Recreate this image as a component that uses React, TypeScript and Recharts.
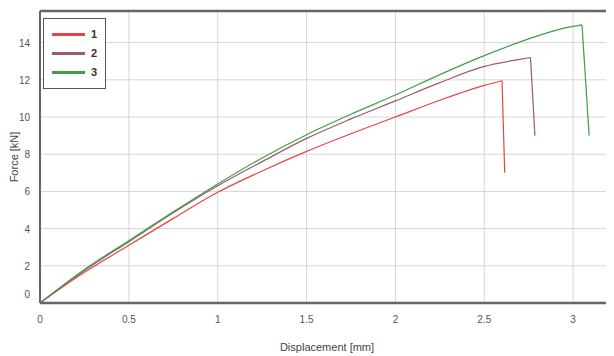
import {
  LineChart,
  Line,
  XAxis,
  YAxis,
  CartesianGrid,
  ReferenceLine,
} from "recharts";

const seriesNames = ["1", "2", "3"];
const seriesColors = ["#e64545", "#9a5c6c", "#3f9f45"];

// rising part up to the peak, then the final drop point
const disp1 = [0, 0.125, 0.25, 0.5, 0.75, 1, 1.25, 1.5, 1.75, 2, 2.25, 2.5, 2.6];
const force1 = [0, 0.85, 1.65, 3.1, 4.55, 5.95, 7.1, 8.15, 9.1, 10.0, 10.9, 11.7, 11.95];
const drop1 = { x: 2.615, y: 7.0 };

const disp2 = [0, 0.125, 0.25, 0.5, 0.75, 1, 1.25, 1.5, 1.75, 2, 2.25, 2.5, 2.7, 2.76];
const force2 = [0, 0.9, 1.75, 3.3, 4.85, 6.3, 7.6, 8.85, 9.9, 10.87, 11.85, 12.72, 13.1, 13.2];
const drop2 = { x: 2.785, y: 9.0 };

const disp3 = [0, 0.125, 0.25, 0.5, 0.75, 1, 1.25, 1.5, 1.75, 2, 2.25, 2.5, 2.75, 2.95, 3.05];
const force3 = [0, 0.92, 1.8, 3.35, 4.9, 6.4, 7.8, 9.05, 10.15, 11.18, 12.28, 13.3, 14.2, 14.78, 14.95];
const drop3 = { x: 3.09, y: 9.0 };

const xTicks = [0, 0.5, 1, 1.5, 2, 2.5, 3];
const yTicks = [0, 2, 4, 6, 8, 10, 12, 14];

const X_MAX = 3.23;
const Y_MAX = 15.7;

const toPoints = (xs: number[], ys: number[]) =>
  xs.map((x, i) => ({ x, y: ys[i] }));

const rises = [
  toPoints(disp1, force1),
  toPoints(disp2, force2),
  toPoints(disp3, force3),
];
const drops = [drop1, drop2, drop3].map((d, i) => [
  rises[i][rises[i].length - 1],
  d,
]);

const font = "'Liberation Sans Narrow', 'Arial Narrow', 'Liberation Sans', sans-serif";

const YTick = ({ x, y, payload }: any) => (
  <text
    x={x - 2}
    y={payload.value === 0 ? y - 9 : y}
    dy={4}
    textAnchor="end"
    fill="#555"
    fontSize={10}
    fontFamily={font}
  >
    {payload.value}
  </text>
);

const XTick = ({ x, y, payload }: any) => (
  <text
    x={x}
    y={y + 12}
    textAnchor="middle"
    fill="#555"
    fontSize={10}
    fontFamily={font}
  >
    {payload.value}
  </text>
);

const LegendBox = () => (
  <div
    style={{
      position: "absolute",
      left: 43,
      top: 18,
      width: 61,
      height: 69,
      border: "1px solid #555",
      background: "#fff",
    }}
  >
    {seriesNames.map((name, i) => (
      <div
        key={name}
        style={{
          position: "absolute",
          left: 8,
          top: 10 + i * 19,
          display: "flex",
          alignItems: "center",
          height: 10,
        }}
      >
        <div style={{ width: 33, height: 3, background: seriesColors[i] }} />
        <span
          style={{
            marginLeft: 6,
            fontSize: 11,
            fontWeight: "bold",
            color: "#333",
            fontFamily: font,
            lineHeight: "10px",
          }}
        >
          {name}
        </span>
      </div>
    ))}
  </div>
);

export default function App() {
  return (
    <div
      style={{
        width: 614,
        height: 356,
        margin: "-8px 0 0 -8px",
        background: "#fff",
        position: "relative",
      }}
    >
      <LineChart
        width={614}
        height={356}
        margin={{ top: 11, right: 0, bottom: 23, left: 0 }}
      >
        <CartesianGrid stroke="#d6d6d6" strokeWidth={1} />
        <XAxis
          type="number"
          dataKey="x"
          domain={[0, X_MAX]}
          ticks={xTicks}
          allowDataOverflow
          height={30}
          tick={<XTick />}
          tickLine={false}
          axisLine={{ stroke: "#666", strokeWidth: 2.5 }}
        />
        <YAxis
          type="number"
          dataKey="y"
          domain={[0, Y_MAX]}
          ticks={yTicks}
          allowDataOverflow
          width={40}
          tick={<YTick />}
          tickLine={false}
          axisLine={{ stroke: "#666", strokeWidth: 2 }}
        />
        <ReferenceLine y={Y_MAX} stroke="#666" strokeWidth={2.5} />
        {rises.map((pts, i) => (
          <Line
            key={"rise" + seriesNames[i]}
            data={pts}
            dataKey="y"
            name={seriesNames[i]}
            type="monotoneX"
            stroke={seriesColors[i]}
            strokeWidth={1.2}
            dot={false}
            activeDot={false}
            isAnimationActive={false}
          />
        ))}
        {drops.map((pts, i) => (
          <Line
            key={"drop" + seriesNames[i]}
            data={pts}
            dataKey="y"
            name={seriesNames[i]}
            type="linear"
            stroke={seriesColors[i]}
            strokeWidth={1.2}
            dot={false}
            activeDot={false}
            isAnimationActive={false}
          />
        ))}
      </LineChart>
      <LegendBox />
      <div
        style={{
          position: "absolute",
          left: 14,
          top: 157,
          transform: "translate(-50%, -50%) rotate(-90deg)",
          fontSize: 11,
          color: "#444",
          fontFamily: font,
          whiteSpace: "nowrap",
        }}
      >
        Force [kN]
      </div>
      <div
        style={{
          position: "absolute",
          left: 327,
          top: 347,
          transform: "translate(-50%, -50%)",
          fontSize: 11,
          color: "#444",
          fontFamily: font,
          whiteSpace: "nowrap",
        }}
      >
        Displacement [mm]
      </div>
    </div>
  );
}
